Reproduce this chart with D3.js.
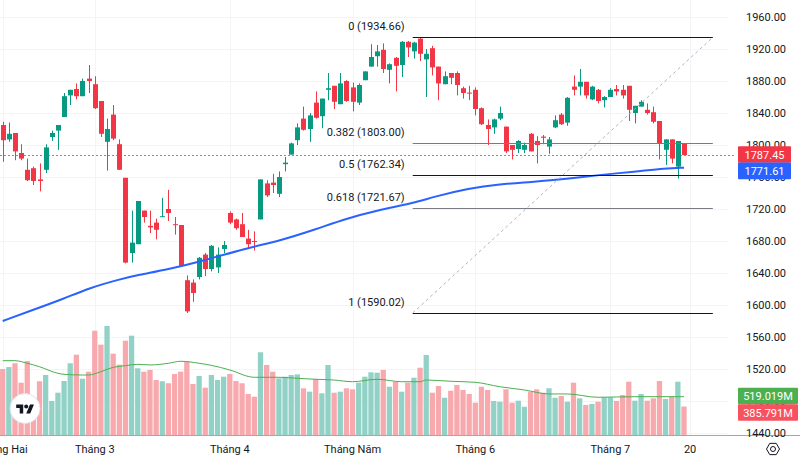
<!DOCTYPE html>
<html>
<head>
<meta charset="utf-8">
<script src="https://cdn.jsdelivr.net/npm/d3@7"></script>
<style>
  body { margin: 0; background: #fff; }
  svg { display: block; font-family: Roboto, "Noto Sans", sans-serif; }
</style>
</head>
<body>
<svg id="chart" width="800" height="459"></svg>
<script>
// daily candles (index 0 = first visible bar)
var open = [1825,1807,1815,1790,1769,1771,1757,1769,1810,1818,1835,1862,1870,1861,1883,1876,1855,1804,1838,1801,
  1759,1665,1676,1718,1699,1703,1710,1720,1701,1700,1631,1628,1635,1663,1645,1647,1670,1715,1707,1701,
  1683,1680,1707,1752,1753,1739,1776,1788,1806,1833,1820,1853,1836,1869,1874,1851,1880,1872,1853,1881,
  1898,1911,1919,1894,1909,1900,1929,1917,1933,1907,1921,1898,1876,1890,1890,1871,1865.5,1869,1846,1825,
  1822,1833,1823,1800,1795,1794,1814,1805,1810.5,1798,1822,1838,1828,1873,1873,1879,1857,1869,1856,1860,
  1870,1869,1874,1840,1848,1844,1841,1830,1794,1807,1773,1802];
var high = [1829,1828,1815,1801,1783,1773,1777,1801,1818,1825,1865,1869,1877,1883,1900,1886,1855,1833,1850,1807,
  1759,1718,1730,1718,1718,1708,1734,1744,1710,1700,1637,1632,1660,1665,1675,1672,1680,1717,1708,1715,
  1694,1692,1757,1756,1764,1767,1785,1803,1827,1848,1840,1867,1858,1890,1874,1890,1881,1878,1877,1892,
  1926,1925,1927,1902,1910,1930,1930,1929,1934.66,1920,1924,1898,1892,1890,1892,1873,1874,1872,1847,1832,
  1833,1848,1823,1800,1806,1803,1815,1811,1812.5,1810,1837,1840,1860,1887,1895,1879,1874,1870,1861,1871,
  1875,1875,1874,1849,1856,1852,1848,1830,1807,1807,1805,1802];
var low = [1779,1804,1781,1781,1755,1750,1742,1765,1805,1794,1835,1850,1857,1861,1865,1845,1810,1768,1806,1769,
  1652,1653,1676,1703,1690,1682,1710,1705,1688,1649,1590.02,1604,1632,1636,1642,1640,1665,1701,1694,1685,
  1671,1668,1707,1735,1740,1735,1767,1788,1800,1818,1804,1833,1821,1856,1845,1851,1854,1842,1850,1881,
  1898,1898,1890,1877,1867,1885,1910,1908,1905,1860,1887,1856,1876,1876,1862,1858,1856,1837,1825,1800,
  1814,1831,1790,1782,1790,1790,1792,1777,1801,1789,1821,1825,1824,1862,1862,1858,1856,1852,1847,1860,
  1862,1858,1830,1827,1848,1838,1827,1782,1775,1777,1758,1787.45];
var close = [1806,1814,1792,1783,1756,1755,1755,1797,1815,1825,1861,1869,1861,1880,1880,1846,1814,1820,1808,1769,
  1653,1678,1730,1710,1697,1694,1711,1715,1700,1649,1592,1615,1659,1645,1674,1663,1675,1703,1696,1685,
  1676,1679,1757,1737,1750,1760,1778,1802,1822,1819,1837,1834,1858,1871,1854,1877,1855,1854,1875,1892,
  1910,1917,1895,1901,1899,1929,1922,1928,1914,1914,1897,1877,1886,1884,1875,1865,1864.5,1845,1826,1820,
  1832,1840,1792,1794,1805,1800,1792,1800,1809,1807,1831,1826,1859,1869,1879,1862,1873,1855,1860,1869,
  1867,1862,1844,1849,1854,1840,1829,1802,1807,1783,1805,1787.45];
// volume in millions
var volume = [894,921,972,709,1003,501,728,813,461,573,732,972,1088,763,858,1413,1224,1477,1102,953,
  1278,1346,904,858,881,745,728,701,827,858,993,691,800,641,813,745,790,827,732,701,
  556,519,1121,949,858,768,790,813,822,633,587,759,565,949,573,587,633,619,709,790,
  850,844,881,654,722,587,709,776,912,1084,573,664,505,600,678,610,556,438,654,610,
  461,451,619,438,465,383,587,619,573,633,505,528,451,709,497,407,420,451,511,511,
  461,542,722,465,556,465,497,732,488,519,722,385.791];

// blue moving average of price, read at some bars
var maIdx = [0,5,10,14,19,22,27,32,40,45,51,56,61,67,70,76,81,86,92,97,103,108,111];
var maVal = [1580,1594,1608,1621,1632,1637.5,1644.6,1654,1671.6,1680,1694.6,1708,1718.2,1727.5,1734.8,1746,1751,1753.6,1757.5,1762.5,1766.6,1770.9,1771.61];

// green moving average of volume (millions), read at some bars
var vmaIdx = [0,2,4,6,9,10,13,14,16,18,20,22,24,27,29,32,34,37,41,45,48,51,54,57,61,65,68,69,73,77,81,85,89,92,97,103,111];
var vmaVal = [1007,1007,972,925,836,822,813,813,858,917,939,958,949,972,999,972,944,881,782,782,768,755,745,722,755,722,722,745,728,714,654,610,556,556,511,519,519.019];

// fibonacci retracement drawing
var fibLevels = ["0", "0.382", "0.5", "0.618", "1"];
var fibPrices = [1934.66, 1803.00, 1762.34, 1721.67, 1590.02];
var fibColors = ["#131722", "#787b86", "#131722", "#787b86", "#131722"];
var fibFrom = 66.8, fibTo = 115.7;

var monthTicks = [0, 15, 37, 57, 77, 99, 112];
var monthLabels = ["Tháng Hai", "Tháng 3", "Tháng 4", "Tháng Năm", "Tháng 6", "Tháng 7", "20"];
var priceTicks = [1960,1920,1880,1840,1800,1760,1720,1680,1640,1600,1560,1520,1480,1440];

var upColor = "#089981", downColor = "#f23645";
var upVol = "#92d2c6", downVol = "#f7a9ae";

var svg = d3.select("#chart");

var x = d3.scaleLinear().domain([0, 111]).range([2.7, 684]);
var y = d3.scaleLinear().domain([1440, 1960]).range([433, 17]);
var yv = d3.scaleLinear().domain([0, 1000]).range([435, 435 - 1000 / 13.55]);
var step = x(1) - x(0);

// faint grid
svg.append("g")
    .selectAll("line")
    .data(priceTicks)
    .enter()
    .append("line")
    .attr("x1", 0)
    .attr("x2", 728)
    .attr("y1", function (d) { return Math.round(y(d)) + 0.5; })
    .attr("y2", function (d) { return Math.round(y(d)) + 0.5; })
    .attr("stroke", "#f3f4f7");
svg.append("g")
    .selectAll("line")
    .data(monthTicks)
    .enter()
    .append("line")
    .attr("x1", function (d) { return Math.round(x(d)) + 0.5; })
    .attr("x2", function (d) { return Math.round(x(d)) + 0.5; })
    .attr("y1", 0)
    .attr("y2", 435)
    .attr("stroke", "#f3f4f7");

var bars = d3.range(close.length);

// volume
svg.append("g")
    .selectAll("rect")
    .data(bars)
    .enter()
    .append("rect")
    .attr("x", function (i) { return x(i) - step * 0.43; })
    .attr("width", step * 0.86)
    .attr("y", function (i) { return yv(volume[i]); })
    .attr("height", function (i) { return yv(0) - yv(volume[i]); })
    .attr("fill", function (i) { return close[i] >= open[i] ? upVol : downVol; });

svg.append("path")
    .datum(vmaIdx)
    .attr("fill", "none")
    .attr("stroke", "#4caf50")
    .attr("stroke-width", 1)
    .attr("d", d3.line()
        .curve(d3.curveMonotoneX)
        .x(function (d) { return x(d); })
        .y(function (d, k) { return yv(vmaVal[k]); }));

// current price dotted line
svg.append("line")
    .attr("x1", 0)
    .attr("x2", 735)
    .attr("y1", Math.round(y(1787.45)) + 0.5)
    .attr("y2", Math.round(y(1787.45)) + 0.5)
    .attr("stroke", "#f23645")
    .attr("stroke-opacity", 0.8)
    .attr("stroke-width", 1)
    .attr("stroke-dasharray", "2,2");

// candles
var candle = svg.append("g")
    .selectAll("g")
    .data(bars)
    .enter()
    .append("g");

candle.append("line")
    .attr("x1", function (i) { return Math.round(x(i)) + 0.5; })
    .attr("x2", function (i) { return Math.round(x(i)) + 0.5; })
    .attr("y1", function (i) { return y(high[i]); })
    .attr("y2", function (i) { return y(low[i]); })
    .attr("stroke", function (i) { return close[i] >= open[i] ? upColor : downColor; })
    .attr("stroke-width", 1);

candle.append("rect")
    .attr("x", function (i) { return Math.round(x(i)) + 0.5 - 2.5; })
    .attr("width", 5)
    .attr("y", function (i) { return y(Math.max(open[i], close[i])); })
    .attr("height", function (i) { return Math.max(1, Math.abs(y(open[i]) - y(close[i]))); })
    .attr("fill", function (i) { return close[i] >= open[i] ? upColor : downColor; });

// blue moving average
svg.append("path")
    .datum(maIdx)
    .attr("fill", "none")
    .attr("stroke", "#2962ff")
    .attr("stroke-width", 2)
    .attr("d", d3.line()
        .curve(d3.curveBasis)
        .x(function (d) { return x(d); })
        .y(function (d, k) { return y(maVal[k]); }));

// fibonacci drawing
svg.append("line")
    .attr("x1", x(fibFrom))
    .attr("y1", y(fibPrices[4]))
    .attr("x2", x(fibTo))
    .attr("y2", y(fibPrices[0]))
    .attr("stroke", "#b2b5be")
    .attr("stroke-width", 1)
    .attr("stroke-dasharray", "3,3");

var fib = svg.append("g")
    .selectAll("g")
    .data(fibPrices)
    .enter()
    .append("g");

fib.append("line")
    .attr("x1", x(fibFrom))
    .attr("x2", x(fibTo))
    .attr("y1", function (d) { return Math.round(y(d)) + 0.5; })
    .attr("y2", function (d) { return Math.round(y(d)) + 0.5; })
    .attr("stroke", function (d, k) { return fibColors[k]; })
    .attr("stroke-width", 1);

fib.append("text")
    .attr("x", x(fibFrom) - 8)
    .attr("y", function (d) { return y(d) - 7; })
    .attr("text-anchor", "end")
    .attr("font-size", 11)
    .attr("fill", "#131722")
    .text(function (d, k) { return fibLevels[k] + " (" + d3.format(".2f")(d) + ")"; });

// bottom axis line
svg.append("line")
    .attr("x1", 0)
    .attr("x2", 800)
    .attr("y1", 435.5)
    .attr("y2", 435.5)
    .attr("stroke", "#a3a6af");

// time labels
svg.append("g")
    .selectAll("text")
    .data(monthTicks)
    .enter()
    .append("text")
    .attr("x", function (d) { return x(d); })
    .attr("y", 453)
    .attr("text-anchor", "middle")
    .attr("font-size", 11)
    .attr("fill", "#131722")
    .text(function (d, k) { return monthLabels[k]; });

// price labels
svg.append("g")
    .selectAll("text")
    .data(priceTicks)
    .enter()
    .append("text")
    .attr("x", 746)
    .attr("y", function (d) { return y(d) + 4; })
    .attr("font-size", 11)
    .attr("fill", "#131722")
    .text(function (d) { return d3.format(".2f")(d); });

// value tags on the scale
function tag(cy, w, fill, label) {
    svg.append("rect")
        .attr("x", 738)
        .attr("y", cy - 8.3)
        .attr("width", w)
        .attr("height", 16.6)
        .attr("rx", 1)
        .attr("fill", fill);
    svg.append("text")
        .attr("x", 738 + w / 2)
        .attr("y", cy + 4)
        .attr("text-anchor", "middle")
        .attr("font-size", 11)
        .attr("fill", "#fff")
        .text(label);
}
tag(y(1787.45) - 0.5, 53, "#f23645", "1787.45");
tag(y(1771.61) + 3.2, 53, "#2962ff", "1771.61");
tag(396, 60, "#4caf50", "519.019M");
tag(412.5, 60, "#f7525f", "385.791M");

// tradingview badge
svg.append("circle")
    .attr("cx", 25)
    .attr("cy", 408.5)
    .attr("r", 15)
    .attr("fill", "#fff")
    .attr("stroke", "#e0e3eb");
var logo = svg.append("g")
    .attr("transform", "translate(16.2,402.5) scale(0.5)")
    .attr("fill", "#131722");
logo.append("path").attr("d", "M14 22H7V11H0V4h14v18zM28 22h-8l7.5-18h8L28 22z");
logo.append("circle").attr("cx", 20).attr("cy", 8).attr("r", 4);

// settings icon
var hex = d3.range(6).map(function (k) {
    var a = Math.PI / 3 * k;
    return [773 + 6.5 * Math.cos(a), 449 + 6.5 * Math.sin(a)];
});
svg.append("polygon")
    .attr("points", hex.join(" "))
    .attr("fill", "none")
    .attr("stroke", "#131722")
    .attr("stroke-width", 1);
svg.append("circle")
    .attr("cx", 773)
    .attr("cy", 449)
    .attr("r", 2.5)
    .attr("fill", "none")
    .attr("stroke", "#131722");
</script>
</body>
</html>
